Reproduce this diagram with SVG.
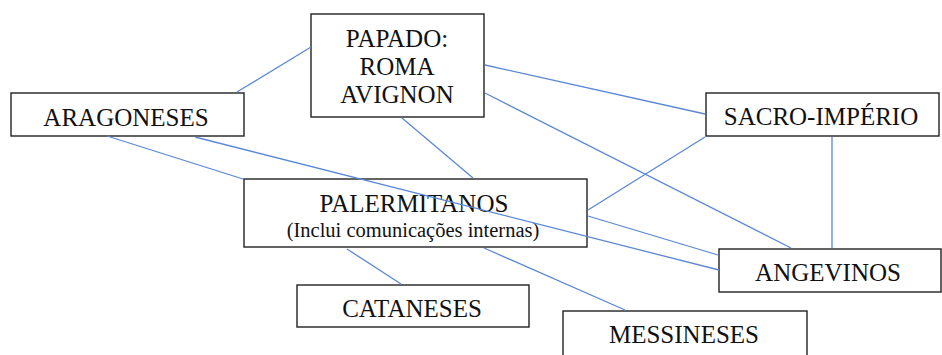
<svg xmlns="http://www.w3.org/2000/svg" width="942" height="355" viewBox="0 0 942 355">
<style>
.box{fill:#fff;stroke:#222;stroke-width:1.4}
.t{font-family:"Liberation Serif","Times New Roman",serif;font-size:25px;fill:#111;text-anchor:middle}
.s{font-size:20.5px}
.c line{stroke:#5b87d6;stroke-width:1.3}
</style>
<rect width="942" height="355" fill="#fff"/>
<g id="papado">
<rect class="box" x="311" y="14" width="173" height="103"/>
<text class="t" x="397" y="47">PAPADO:</text>
<text class="t" x="397" y="75">ROMA</text>
<text class="t" x="397" y="103">AVIGNON</text>
</g>
<g id="aragoneses">
<rect class="box" x="11" y="93" width="233" height="43"/>
<text class="t" x="126" y="126">ARAGONESES</text>
</g>
<g id="sacro">
<rect class="box" x="706" y="93" width="233" height="43"/>
<text class="t" x="821" y="125">SACRO-IMPÉRIO</text>
</g>
<g id="palermitanos">
<rect class="box" x="244" y="179" width="343" height="68"/>
<text class="t" x="414" y="212">PALERMITANOS</text>
<text class="t s" x="413" y="237">(Inclui comunicações internas)</text>
</g>
<g id="cataneses">
<rect class="box" x="297" y="285" width="232" height="42"/>
<text class="t" x="412" y="317">CATANESES</text>
</g>
<g id="angevinos">
<rect class="box" x="719" y="249" width="222" height="43"/>
<text class="t" x="828" y="281">ANGEVINOS</text>
</g>
<g id="messineses">
<rect class="box" x="563" y="311" width="244" height="50"/>
<text class="t" x="684" y="343">MESSINESES</text>
</g>
<g id="connectors" class="c">
<line x1="237" y1="92" x2="311" y2="47"/>
<line x1="107" y1="136" x2="243" y2="179"/>
<line x1="195" y1="137" x2="719" y2="270"/>
<line x1="402" y1="118" x2="473" y2="178"/>
<line x1="485" y1="65" x2="705" y2="114"/>
<line x1="485" y1="93" x2="791" y2="248"/>
<line x1="705" y1="137" x2="588" y2="210"/>
<line x1="832" y1="137" x2="832" y2="248"/>
<line x1="588" y1="216" x2="718" y2="255"/>
<line x1="347" y1="249" x2="401" y2="284"/>
<line x1="484" y1="248" x2="625" y2="310"/>
</g>
</svg>
